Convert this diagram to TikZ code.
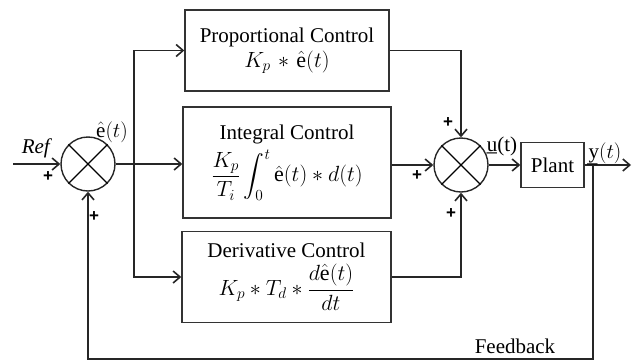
\RequirePackage{fix-cm}
\documentclass[tikz,border=0pt]{standalone}
\usepackage{exscale}
\usepackage{fontspec}
\setmainfont{Liberation Serif}
\newfontfamily\plusfont{Liberation Sans}
\usetikzlibrary{arrows.meta,calc}
\newcommand{\bigfont}{\fontsize{21}{25}\selectfont}
\newcommand{\mathsz}{\fontsize{22}{26}\selectfont}
\begin{document}
\begin{tikzpicture}[x=1pt,y=-1pt,
  every node/.style={font=\bigfont},
  line/.style={line width=1.6pt, draw=black!85},
  arr/.style={line, -{Straight Barb[length=7pt,width=12pt,line width=1.6pt]}},
  blockbox/.style={draw=black!80, line width=1.4pt, align=center, inner sep=2pt},
  sumnode/.style={circle, draw=black!85, line width=1.4pt, minimum size=54pt, inner sep=0pt},
  plus/.style={font=\plusfont\bfseries\fontsize{17}{17}\selectfont, inner sep=0pt}]
\useasboundingbox (0,0) rectangle (636,360);

% summing junctions
\node[sumnode] (s1) at (88,164) {};
\draw[line width=1.2pt] (s1.north east) -- (s1.south west) (s1.north west) -- (s1.south east);
\node[sumnode] (s2) at (461,165) {};
\draw[line width=1.2pt] (s2.north east) -- (s2.south west) (s2.north west) -- (s2.south east);

% blocks
\node[blockbox, minimum width=204pt, minimum height=81pt] (prop) at (287,50.5)
  {Proportional Control\\ \mathsz $K_p \mskip2mu\ast\mskip2mu \hat{\mathrm{e}}(t)$};
\node[blockbox, minimum width=208pt, minimum height=111pt] (int) at (287,162.5)
  {Integral Control\\[5pt] \mathsz $\displaystyle \frac{K_p}{T_i}\int_0^t \hat{\mathrm{e}}(t)\ast d(t)$};
\node[blockbox, minimum width=209pt, minimum height=91pt] (der) at (286.5,277)
  {Derivative Control\\[5pt] \mathsz $\displaystyle K_p \ast T_d \ast \frac{d\hat{\mathrm{e}}(t)}{dt}$};
\node[blockbox, minimum width=63pt, minimum height=45pt] (plant) at (552.5,165) {Plant};

% coordinates
\coordinate (refin) at (13,164);
\coordinate (br) at (134,164);
\coordinate (out) at (631,165);
\coordinate (fb) at (593,165);
\coordinate (fbb) at (593,359);

% connectors
\draw[arr] (refin) -- (s1.west);
\draw[arr] (s1.east) -- (int.west |- s1.east);
\draw[arr] (br) |- (prop.west);
\draw[arr] (br) |- (der.west);
\draw[arr] (prop.east) -| (s2.north);
\draw[arr] (int.east |- s2.west) -- (s2.west);
\draw[arr] (der.east) -| (s2.south);
\draw[arr] (s2.east) -- (plant.west);
\draw[arr] (plant.east) -- (out);
\draw[arr] (fb) -- (fbb) -| (s1.south);

% labels
\node (lref) at (37,148) {\textit{Ref}};
\node (le) at (112,132) {$\hat{\mathrm{e}}(t)$};
\node (lu) at (502,146) {\b{u}(t)};
\node (ly) at (605,154) {\b{y}$(t)$};
\node (lfb) at (515,346) {Feedback};
\node[plus] (p1) at (48,177) {+};
\node[plus] (p2) at (94,217) {+};
\node[plus] (p3) at (448,123) {+};
\node[plus] (p4) at (417,176) {+};
\node[plus] (p5) at (451,214) {+};
\end{tikzpicture}
\end{document}
